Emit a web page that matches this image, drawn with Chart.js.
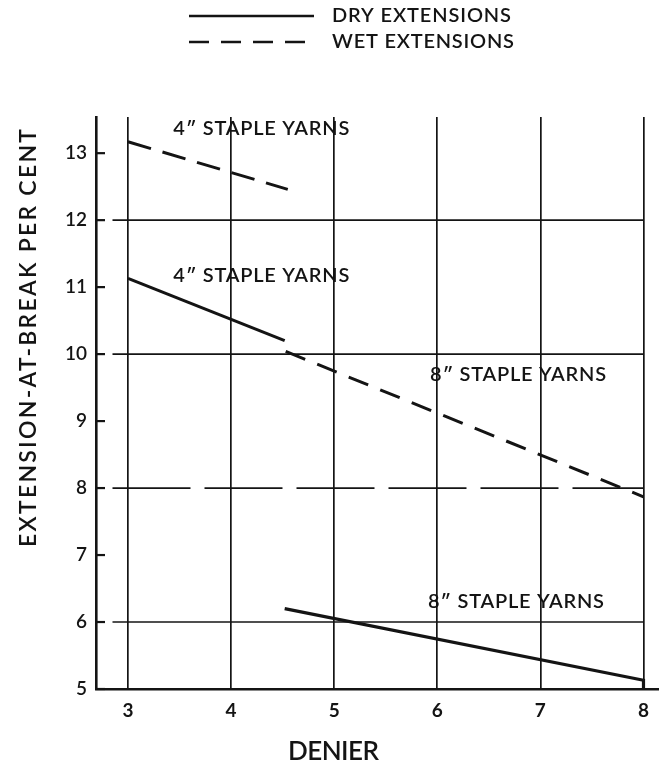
<!DOCTYPE html>
<html>
<head>
<meta charset="utf-8">
<script src="https://cdn.jsdelivr.net/npm/chart.js@4.4.1/dist/chart.umd.min.js"></script>
<style>
  html, body { margin: 0; padding: 0; background: #fff; }
  #wrap { width: 659px; height: 763px; }
</style>
</head>
<body>
<div id="wrap"><canvas id="extChart" width="659" height="763"></canvas></div>
<script>
// tick values
const denierTicks = [3, 4, 5, 6, 7, 8];
const extTicks = [5, 6, 7, 8, 9, 10, 11, 12, 13];
const gridExt = [6, 8, 10, 12];

// curves (denier, extension %)
const dry4Denier = [3, 4.52];
const dry4Ext = [11.13, 10.20];
const wet4Denier = [3, 4.55];
const wet4Ext = [13.17, 12.46];
const dry8Denier = [4.52, 8, 8];
const dry8Ext = [6.20, 5.13, 5.0];
const wet8Denier = [4.53, 8];
const wet8Ext = [10.04, 7.87];

// curve labels, anchored at their left/middle point
const noteTexts = ['4\u2033 STAPLE YARNS', '4\u2033 STAPLE YARNS', '8\u2033 STAPLE YARNS', '8\u2033 STAPLE YARNS'];
const noteDenier = [3.44, 3.44, 5.93, 5.91];
const noteExt = [13.37, 11.18, 9.70, 6.31];

const legendTexts = ['DRY EXTENSIONS', 'WET EXTENSIONS'];

const ink = '#141414';
const FONT = 'Lato, "Open Sans", "DejaVu Sans", sans-serif';

function pts(xs, ys) {
  return xs.map((v, i) => ({ x: v, y: ys[i] }));
}

// draw text stretched (by letter spacing) to a given width
function fitText(ctx, text, left, cy, width, font) {
  ctx.font = font;
  ctx.textAlign = 'left';
  ctx.textBaseline = 'middle';
  if ('letterSpacing' in ctx) {
    ctx.letterSpacing = '0px';
    const w = ctx.measureText(text).width;
    const ls = (width - w) / (text.length - 1);
    ctx.letterSpacing = ls + 'px';
    ctx.fillText(text, left, cy);
    ctx.letterSpacing = '0px';
  } else {
    const w = ctx.measureText(text).width;
    ctx.save();
    ctx.translate(left, cy);
    ctx.scale(width / w, 1);
    ctx.fillText(text, 0, 0);
    ctx.restore();
  }
}

function seg(ctx, x1, y1, x2, y2) {
  ctx.beginPath();
  ctx.moveTo(x1, y1);
  ctx.lineTo(x2, y2);
  ctx.stroke();
}

const paperPlugin = {
  id: 'paper',
  beforeDraw(chart) {
    const ctx = chart.ctx;
    ctx.save();
    ctx.fillStyle = '#fff';
    ctx.fillRect(0, 0, chart.width, chart.height);
    ctx.restore();
  },
  beforeDatasetsDraw(chart) {
    const { ctx, scales: { x, y } } = chart;
    ctx.save();
    ctx.strokeStyle = ink;
    // short inward ticks on the y axis
    ctx.lineWidth = 2.2;
    extTicks.forEach(v => {
      const py = y.getPixelForValue(v);
      seg(ctx, chart.chartArea.left, py, chart.chartArea.left + 9, py);
    });
    // horizontal grid, only every second value
    ctx.lineWidth = 1.7;
    gridExt.forEach(v => {
      const py = y.getPixelForValue(v);
      ctx.setLineDash(v === 8 ? [78, 14] : []);
      seg(ctx, x.getPixelForValue(2.85), py, x.getPixelForValue(8), py);
    });
    ctx.restore();
  },
  afterDraw(chart) {
    const { ctx, scales: { x, y } } = chart;
    ctx.save();
    ctx.fillStyle = ink;
    ctx.strokeStyle = ink;

    // curve labels
    noteTexts.forEach((t, i) => {
      fitText(ctx, t, x.getPixelForValue(noteDenier[i]), y.getPixelForValue(noteExt[i]), 176, '600 20px ' + FONT);
    });

    // legend
    ctx.lineWidth = 2.6;
    seg(ctx, 189, 16, 314, 16);
    ctx.setLineDash([20, 12]);
    seg(ctx, 189, 42, 314, 42);
    ctx.setLineDash([]);
    fitText(ctx, legendTexts[0], 332, 16, 179, '600 20px ' + FONT);
    fitText(ctx, legendTexts[1], 332, 42, 182, '600 20px ' + FONT);

    // axis titles
    fitText(ctx, 'DENIER', 288, 752, 91, '600 26px ' + FONT);
    ctx.save();
    ctx.translate(29, 338);
    ctx.rotate(-Math.PI / 2);
    fitText(ctx, 'EXTENSION-AT-BREAK PER CENT', -209, 0, 418, '600 23px ' + FONT);
    ctx.restore();

    ctx.restore();
  }
};

const ctxE = document.getElementById('extChart').getContext('2d');

const dataE = {
  datasets: [{
    label: 'Dry 4" staple',
    data: pts(dry4Denier, dry4Ext),
    borderColor: ink,
    borderWidth: 3
  }, {
    label: 'Wet 4" staple',
    data: pts(wet4Denier, wet4Ext),
    borderColor: ink,
    borderWidth: 3,
    borderDash: [24, 12]
  }, {
    label: 'Wet 8" staple',
    data: pts(wet8Denier, wet8Ext),
    borderColor: ink,
    borderWidth: 3,
    borderDash: [21, 13]
  }, {
    label: 'Dry 8" staple',
    data: pts(dry8Denier, dry8Ext),
    borderColor: ink,
    borderWidth: 3.2
  }]
};

const configE = {
  type: 'scatter',
  data: dataE,
  plugins: [paperPlugin],
  options: {
    responsive: false,
    animation: false,
    devicePixelRatio: 1,
    showLine: true,
    elements: {
      point: { radius: 0 },
      line: { tension: 0, borderCapStyle: 'butt' }
    },
    layout: {
      padding: { top: 117, right: 0, left: 0, bottom: 0 }
    },
    plugins: {
      legend: { display: false },
      tooltip: { enabled: false }
    },
    scales: {
      x: {
        type: 'linear',
        min: 2.69,
        max: 8.145,
        afterBuildTicks: scale => {
          scale.ticks = denierTicks.map(v => ({ value: v }));
        },
        afterFit: scale => { scale.height = 74; },
        grid: {
          color: ink,
          lineWidth: 1.7,
          drawTicks: false
        },
        border: { display: true, color: ink, width: 2.6 },
        ticks: {
          color: ink,
          padding: 10,
          font: { family: FONT, size: 19, weight: 'bold' }
        }
      },
      y: {
        type: 'linear',
        min: 5,
        max: 13.54,
        afterBuildTicks: scale => {
          scale.ticks = extTicks.map(v => ({ value: v }));
        },
        afterFit: scale => { scale.width = 96; },
        grid: { display: false, drawTicks: false },
        border: { display: true, color: ink, width: 2.6 },
        ticks: {
          color: ink,
          padding: 9,
          font: { family: FONT, size: 19, weight: '600' }
        }
      }
    }
  }
};

const extChart = new Chart(ctxE, configE);
</script>
</body>
</html>
